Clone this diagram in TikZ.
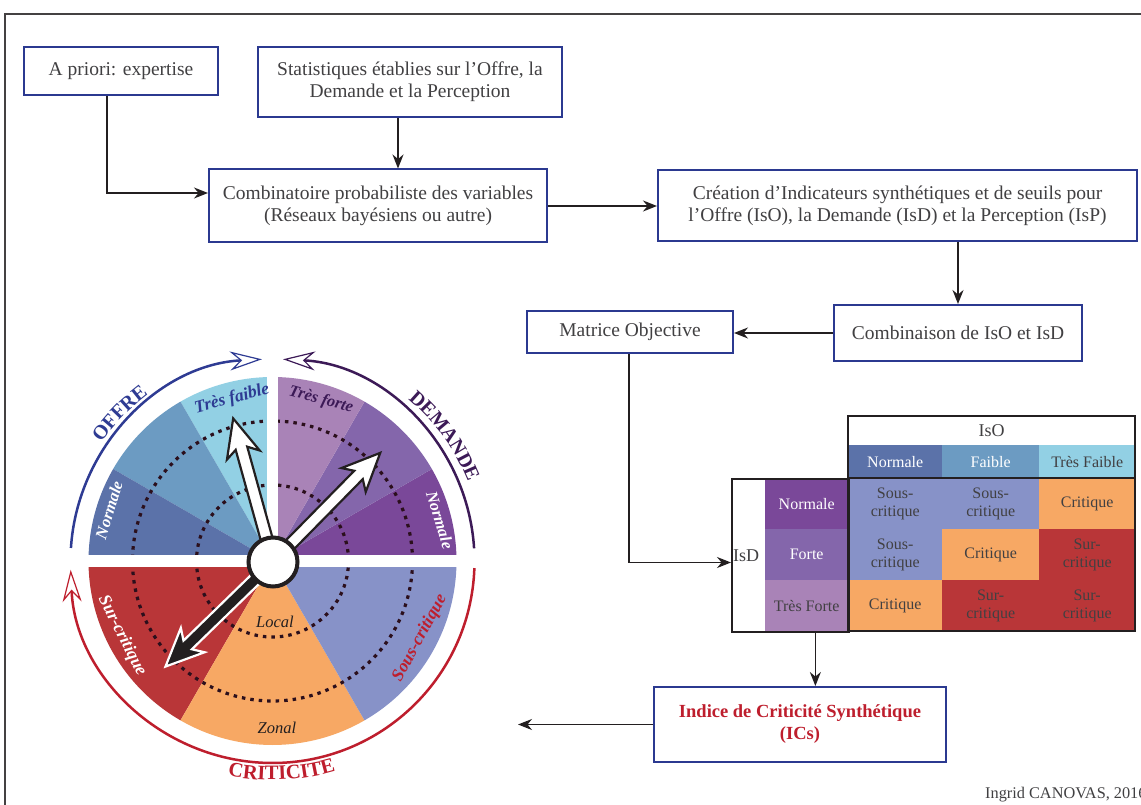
\documentclass[tikz,border=0pt]{standalone}
\usepackage{fontspec}
\setmainfont{Liberation Serif}
\usetikzlibrary{arrows.meta,calc,decorations.text}
\definecolor{boxblue}{HTML}{2B3990}
\definecolor{txtgray}{HTML}{414042}
\definecolor{lnk}{HTML}{231F20}
\definecolor{offN}{HTML}{5B72A9}
\definecolor{offF}{HTML}{6C9BC2}
\definecolor{offTF}{HTML}{92D0E4}
\definecolor{demTF}{HTML}{A983B7}
\definecolor{demF}{HTML}{8466AB}
\definecolor{demN}{HTML}{7A4899}
\definecolor{sur}{HTML}{B93638}
\definecolor{crit}{HTML}{F7A864}
\definecolor{sous}{HTML}{8792C8}
\definecolor{critred}{HTML}{BE1E2D}
\definecolor{dempurple}{HTML}{3C1A57}
\definecolor{offblue}{HTML}{2E3B93}
\definecolor{dotc}{HTML}{2B0F1C}
\newcommand{\wslice}[3]{\fill[#1] (C) -- ++(#2:184) arc[start angle=#2,end angle=#3,radius=184] -- cycle;}
\newcommand{\needle}[4]{%
  \begin{scope}[shift={(hubc)}, rotate=#1]
    \filldraw[fill=#3, draw=#4, line width=2.2pt, line join=miter]
      (0,-6) -- (#2-31,-6) -- (#2-38,-17) -- (#2,0) -- (#2-38,17) -- (#2-31,6) -- (0,6) -- cycle;
  \end{scope}}
\begin{document}
\begin{tikzpicture}[x=1pt,y=1pt,
  box/.style={draw=boxblue, line width=2pt, fill=white, align=center, inner sep=0pt,
    text=txtgray, font=\fontsize{19.5}{22}\selectfont},
  conn/.style={draw=lnk, line width=1.6pt, -{Stealth[length=14pt,width=11pt]}},
  cellbase/.style={anchor=north west, inner sep=0pt, align=center,
    font=\fontsize{16}{18}\selectfont},
  seglab/.style={font=\fontsize{16.5}{16.5}\selectfont\bfseries\itshape, inner sep=0pt},
  ring/.style={line width=2.5pt},
  ringtip/.style={-{Stealth[open, length=32pt, width=19pt, line width=1.2pt]}},
  dotring/.style={draw=dotc, line width=3.2pt, dash pattern=on 3.5pt off 5pt}
]
\useasboundingbox (0,0) rectangle (1141,-805);
\fill[white] (0,0) rectangle (1141,-805);
\draw[lnk!85, line width=1.5pt] (5,-14) rectangle (1170,-840);

% ---------- wheel ----------
\coordinate (C) at (272.5,-561);
\coordinate (hubc) at (273,-562);
\wslice{offTF}{90}{120}
\wslice{offF}{120}{150}
\wslice{offN}{150}{180}
\wslice{demN}{0}{30}
\wslice{demF}{30}{60}
\wslice{demTF}{60}{90}
\wslice{sur}{180}{240}
\wslice{crit}{240}{300}
\wslice{sous}{300}{360}
\draw[dotring] (C) circle[radius=76];
\draw[dotring] (C) circle[radius=140];
\fill[white] ($(C)+(-195,-6)$) rectangle ($(C)+(195,6)$);
\fill[white] ($(C)+(-5.5,0)$) rectangle ($(C)+(5.5,195)$);

\node[seglab, text=offblue, rotate=15, font=\fontsize{17.5}{17.5}\selectfont\bfseries\itshape] (lTF) at (232,-399) {Très faible};
\node[seglab, text=white, rotate=73] (lON) at (109,-510) {Normale};
\node[seglab, text=dempurple, rotate=-15] (lTFo) at (321,-400) {Très forte};
\node[seglab, text=white, rotate=-73] (lDN) at (440,-520) {Normale};
\node[seglab, text=white, rotate=-63, font=\fontsize{17.5}{17.5}\selectfont\bfseries\itshape] (lSur) at (122,-636) {Sur-critique};
\node[seglab, text=critred, rotate=61.5, font=\fontsize{17.5}{17.5}\selectfont\bfseries\itshape] (lSous) at (420,-638) {Sous-critique};
\node[font=\fontsize{16.5}{16.5}\selectfont\itshape, text=lnk] (lLocal) at (275,-622) {Local};
\node[font=\fontsize{16.5}{16.5}\selectfont\itshape, text=lnk] (lZonal) at (277,-728) {Zonal};

\needle{105.5}{149}{white}{lnk}
\needle{45.5}{153}{white}{lnk}
\needle{224.2}{150}{lnk}{white}
\node[circle, draw=lnk, line width=4pt, fill=white, minimum size=49pt, inner sep=0pt] (hub) at (hubc) {};

\draw[ring, ringtip, offblue]
  ($(C)+(176.3:202)$) arc[start angle=176.3, end angle=93, radius=202];
\draw[ring, ringtip, dempurple]
  ($(C)+(3.6:202)$) arc[start angle=3.6, end angle=87, radius=202];
\draw[ring, ringtip, critred]
  ($(C)+(-2:202)$) arc[start angle=-2, end angle=-177.5, radius=202];

\path[decorate, decoration={text along path, text align=center,
   text={|\fontsize{20}{20}\selectfont\bfseries\color{offblue}|OFFRE}}]
  ($(C)+(152:208)$) arc[start angle=152, end angle=120, radius=208];
\path[decorate, decoration={text along path, text align=center,
   text={|\fontsize{20}{20}\selectfont\bfseries\color{dempurple}|DEMANDE}}]
  ($(C)+(58:211)$) arc[start angle=58, end angle=14, radius=211];
\path[decorate, decoration={text along path, text align=center,
   text={|\fontsize{20.5}{20.5}\selectfont\bfseries\color{critred}|CRITICITE}}]
  ($(C)+(-115:219)$) arc[start angle=-115, end angle=-60, radius=219];

% ---------- flow boxes ----------
\node[box, minimum width=194pt, minimum height=48pt] (boxA) at (121,-71) {A priori: expertise};
\node[box, minimum width=304pt, minimum height=70pt] (boxS) at (410,-82) {Statistiques établies sur l’Offre, la\\Demande et la Perception};
\node[box, minimum width=338pt, minimum height=73pt] (boxC) at (378,-206) {Combinatoire probabiliste des variables\\(Réseaux bayésiens ou autre)};
\node[box, minimum width=479pt, minimum height=71pt] (boxI) at (897.5,-205.5) {Création d’Indicateurs synthétiques et de seuils pour\\l’Offre (IsO), la Demande (IsD) et la Perception (IsP)};
\node[box, minimum width=206pt, minimum height=42pt] (boxM) at (630,-332) {Matrice Objective};
\node[box, minimum width=248pt, minimum height=56pt] (boxK) at (958,-333) {Combinaison de IsO et IsD};
\node[box, minimum width=292pt, minimum height=75pt, text=critred, font=\fontsize{18.5}{22}\selectfont\bfseries] (ics) at (800,-724.5) {Indice de Criticité Synthétique\\(ICs)};

% ---------- matrix ----------
\node[cellbase, fill=white, text=txtgray, minimum width=287pt, minimum height=29pt, font=\fontsize{18}{18}\selectfont] (iso) at (848,-416) {IsO};
\node[cellbase, fill=offN, text=white, minimum width=94pt, minimum height=33pt] (hN) at (848,-445) {Normale};
\node[cellbase, fill=offF, text=white, minimum width=97pt, minimum height=33pt] (hF) at (942,-445) {Faible};
\node[cellbase, fill=offTF, text=txtgray, minimum width=96pt, minimum height=33pt] (hTF) at (1039,-445) {Très Faible};

\node[cellbase, fill=sous, text=txtgray, minimum width=94pt, minimum height=51pt] (m11) at (848,-478) {Sous-\\critique};
\node[cellbase, fill=sous, text=txtgray, minimum width=97pt, minimum height=51pt] (m12) at (942,-478) {Sous-\\critique};
\node[cellbase, fill=crit, text=txtgray, minimum width=96pt, minimum height=51pt] (m13) at (1039,-478) {Critique};
\node[cellbase, fill=sous, text=txtgray, minimum width=94pt, minimum height=51pt] (m21) at (848,-529) {Sous-\\critique};
\node[cellbase, fill=crit, text=txtgray, minimum width=97pt, minimum height=51pt] (m22) at (942,-529) {Critique};
\node[cellbase, fill=sur, text=txtgray, minimum width=96pt, minimum height=51pt] (m23) at (1039,-529) {Sur-\\critique};
\node[cellbase, fill=crit, text=txtgray, minimum width=94pt, minimum height=51pt] (m31) at (848,-580) {Critique};
\node[cellbase, fill=sur, text=txtgray, minimum width=97pt, minimum height=51pt] (m32) at (942,-580) {Sur-\\critique};
\node[cellbase, fill=sur, text=txtgray, minimum width=96pt, minimum height=51pt] (m33) at (1039,-580) {Sur-\\critique};

\node[cellbase, fill=demN, text=white, minimum width=83pt, minimum height=51pt] (rN) at (765,-478) {Normale};
\node[cellbase, fill=demF, text=white, minimum width=83pt, minimum height=51pt] (rF) at (765,-529) {Forte};
\node[cellbase, fill=demTF, text=txtgray, minimum width=83pt, minimum height=51pt] (rTF) at (765,-580) {Très Forte};
\node[cellbase, draw=lnk, line width=2pt, minimum width=117pt, minimum height=153pt] (isd) at (731,-478) {};
\node[anchor=west, inner sep=0pt, text=txtgray, font=\fontsize{18}{18}\selectfont] (isdlab) at (733,-556) {IsD};
\draw[lnk, line width=2pt] (848,-416) rectangle (1135,-631);
\draw[lnk, line width=2pt] (848,-478) -- (1135,-478);

% ---------- connectors ----------
\coordinate (wheelEnd) at (518,-724.5);
\coordinate (tabOut) at ($(isd.south west)!0.709!(isd.south east)$);
\draw[conn] ([xshift=-14pt]boxA.south) |- ([yshift=13pt]boxC.west);
\draw[conn] ([xshift=-12pt]boxS.south) -- ([xshift=-12pt]boxS.south |- boxC.north);
\draw[conn] (boxC.east) -- (boxC.east -| boxI.west);
\draw[conn] (boxI.south -| boxK.north) -- (boxK.north);
\draw[conn] (boxK.west) -- (boxK.west -| boxM.east);
\draw[conn] ([xshift=-1pt]boxM.south) |- ([yshift=-7pt]isd.west);
\draw[conn] (tabOut) -- (tabOut |- ics.north);
\draw[conn] (ics.west) -- (ics.west -| wheelEnd);

\node[anchor=base west, inner sep=0pt, text=txtgray, font=\fontsize{16.3}{16.3}\selectfont] (credit) at (985,-798) {Ingrid CANOVAS, 2016};
\end{tikzpicture}
\end{document}
